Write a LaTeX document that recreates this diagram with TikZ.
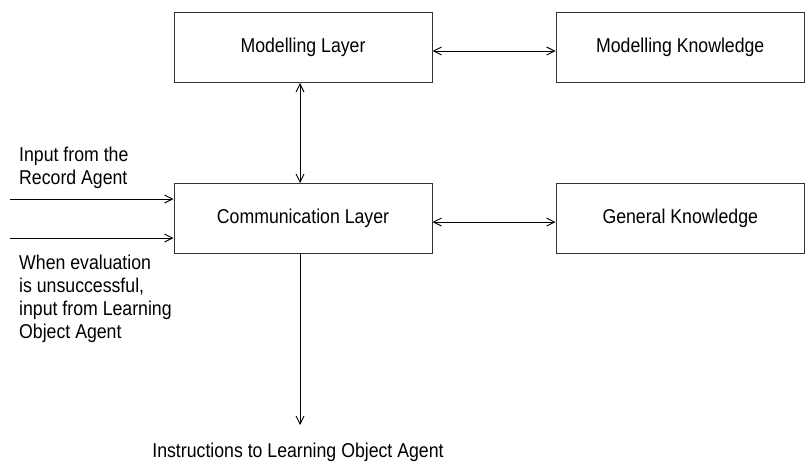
\documentclass[tikz,border=0pt]{standalone}
\usepackage{fontspec}
\setmainfont{Liberation Sans}[FakeStretch=0.885]
\usetikzlibrary{arrows.meta}
\begin{document}
\begin{tikzpicture}[x=1pt,y=-1pt,
  every node/.style={font=\fontsize{20}{23}\selectfont},
  layerbox/.style={draw=black!80,line width=1pt,rectangle,inner sep=0pt},
  link/.style={line width=0.9pt,{Straight Barb[length=8pt,width=8pt]}-{Straight Barb[length=8pt,width=8pt]}},
  feed/.style={line width=0.9pt,-{Straight Barb[length=8pt,width=8pt]}},
  note/.style={align=left,inner sep=0pt}]
\useasboundingbox (0,0) rectangle (805,466);

% boxes
\node[layerbox,minimum width=258pt,minimum height=70pt] (ml) at (303,47.5) {Modelling Layer};
\node[layerbox,minimum width=248.5pt,minimum height=70pt] (mk) at (680.25,47.5) {Modelling Knowledge};
\node[layerbox,minimum width=258pt,minimum height=70pt] (cl) at (303,218.5) {Communication Layer};
\node[layerbox,minimum width=248.5pt,minimum height=70pt] (gk) at (680.25,218.5) {General Knowledge};

% two-way links between the layers and knowledge stores
\draw[link] ([yshift=-3.5pt]ml.east) -- ([yshift=-3.5pt]mk.west);
\draw[link] ([yshift=-3.5pt]cl.east) -- ([yshift=-3.5pt]gk.west);
\draw[link] (ml.south -| 300,0) -- (cl.north -| 300,0);

% inputs on the left
\coordinate (in1) at (10,199);
\coordinate (in2) at (10,238);
\draw[feed] (in1) -- (in1 -| cl.west);
\draw[feed] (in2) -- (in2 -| cl.west);
% the base anchor of a multi-line note sits on its last line
\node[note,anchor=base west] (t1) at (19,184) {Input from the\\Record Agent};
\node[note,anchor=base west] (t2) at (19,338) {When evaluation\\is unsuccessful,\\input from Learning\\Object Agent};

% output at the bottom
\coordinate (out) at (300,425);
\draw[feed] (cl.south -| out) -- (out);
\node[inner sep=0pt,anchor=base] (t3) at (298,457.3) {Instructions to Learning Object Agent};
\end{tikzpicture}
\end{document}
